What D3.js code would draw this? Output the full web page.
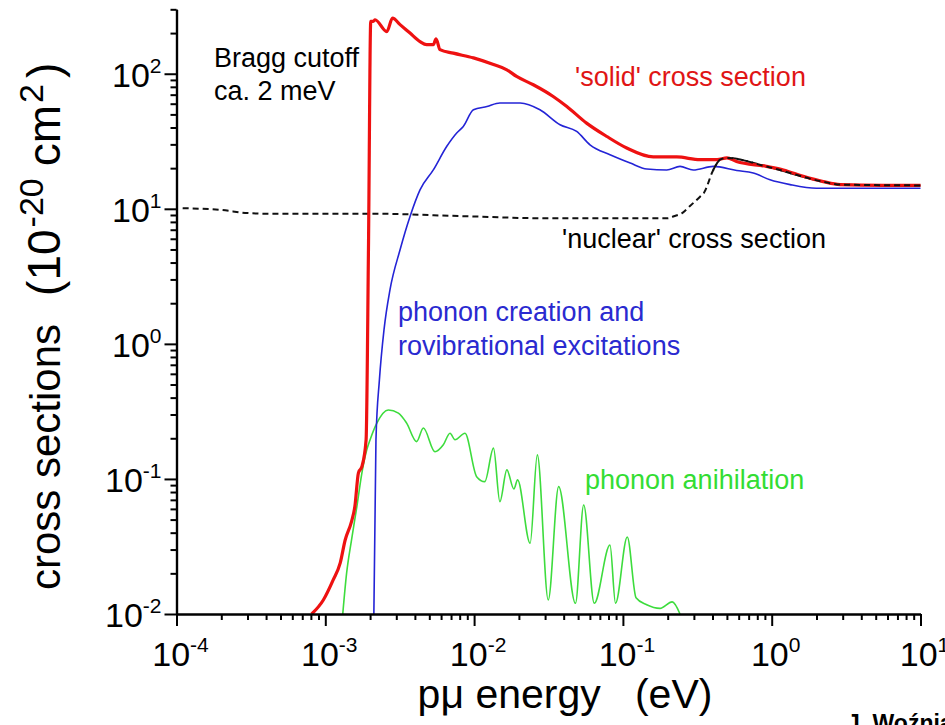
<!DOCTYPE html>
<html><head><meta charset="utf-8">
<script src="https://cdn.jsdelivr.net/npm/d3@7"></script>
<style>
body{margin:0;background:#fff}
svg{display:block}
text{font-family:"Liberation Sans",Arial,sans-serif}
</style>
</head><body>
<svg id="c" width="945" height="725"></svg>
<script>
// ---- data (energy in eV, cross sections in 1e-20 cm^2) ----
const xTickExps = [-4, -3, -2, -1, 0, 1];
const yTickExps = [-2, -1, 0, 1, 2];

const solidE = [8.1e-4, 9.7e-4, 1.13e-3, 1.26e-3, 1.36e-3, 1.5e-3, 1.58e-3, 1.67e-3, 1.76e-3, 1.88e-3, 1.95e-3, 2.02e-3, 2.1e-3, 2.16e-3, 2.59e-3, 2.83e-3, 3.18e-3, 3.71e-3, 4.33e-3, 4.8e-3, 5.32e-3, 5.55e-3, 5.9e-3, 7.25e-3, 9.9e-3, 0.0135, 0.0166, 0.0193, 0.025, 0.034, 0.042, 0.057, 0.078, 0.106, 0.16, 0.23, 0.33, 0.43, 0.5, 0.58, 0.92, 1.2, 1.63, 2.22, 2.88, 5.6, 10];
const solidV = [0.01, 0.0127, 0.0179, 0.0239, 0.0353, 0.0483, 0.0624, 0.111, 0.123, 0.195, 4.97, 244, 244, 251, 205, 258, 231, 200, 173, 164, 164, 181, 151, 142, 131, 117, 107, 95.5, 82.9, 67.9, 57.2, 43.1, 34.3, 28.2, 24.2, 24.2, 23.1, 23.1, 23.8, 22.4, 20.6, 19.4, 17.4, 15.9, 15.1, 14.9, 14.9];

const nuclearE = [1.1e-4, 2e-4, 3e-4, 4.2e-4, 2e-3, 9e-3, 0.032, 0.2, 0.22, 0.25, 0.28, 0.33, 0.35, 0.405, 0.45, 0.5, 0.92, 2.2, 2.9, 10];
const nuclearV = [10.1, 9.8, 9.3, 9.2, 9.2, 8.8, 8.5, 8.5, 8.8, 9.3, 10.4, 12.3, 13.1, 19.4, 23.1, 23.8, 20.6, 15.9, 15.1, 14.9];

const phononE = [2.12e-3, 2.19e-3, 2.31e-3, 2.48e-3, 2.72e-3, 3.18e-3, 3.71e-3, 4.33e-3, 5.32e-3, 6.54e-3, 7.64e-3, 8.46e-3, 9.9e-3, 0.0122, 0.0149, 0.0204, 0.0277, 0.0378, 0.0489, 0.0601, 0.0819, 0.112, 0.145, 0.197, 0.242, 0.297, 0.405, 0.582, 0.752, 0.974, 1.33, 2.0, 10];
const phononV = [0.01, 0.195, 0.541, 1.27, 2.51, 4.97, 8.77, 13.8, 19.4, 28.9, 36.4, 40.7, 54.1, 57.2, 60.7, 60.7, 54.1, 41.9, 37.4, 29.8, 25.1, 21.8, 19.7, 19.4, 20.6, 19.4, 20.6, 19.2, 18.4, 16.4, 15.1, 14.2, 14.2];

const anihE = [1.31e-3, 1.39e-3, 1.5e-3, 1.63e-3, 1.76e-3, 1.9e-3, 2.0e-3, 2.22e-3, 2.65e-3, 3.1e-3, 3.52e-3, 4.11e-3, 4.56e-3, 5.46e-3, 6.21e-3, 6.89e-3, 7.44e-3, 8.68e-3, 0.0104, 0.0118, 0.0135, 0.0149, 0.0166, 0.0185, 0.0196, 0.0238, 0.0266, 0.0315, 0.037, 0.048, 0.0545, 0.0642, 0.0819, 0.0892, 0.107, 0.1225, 0.1445, 0.1775, 0.2145, 0.242];
const anihV = [0.01, 0.02, 0.0353, 0.0624, 0.11, 0.164, 0.195, 0.259, 0.324, 0.307, 0.259, 0.189, 0.238, 0.159, 0.179, 0.218, 0.195, 0.218, 0.104, 0.0955, 0.169, 0.0679, 0.1167, 0.0843, 0.0984, 0.0334, 0.1506, 0.0127, 0.0877, 0.012, 0.0642, 0.012, 0.0324, 0.012, 0.0372, 0.0132, 0.0117, 0.011, 0.0123, 0.01];

// ---- layout ----
const svg = d3.select("#c");
const L = 176.5, R = 920.5, T = 9.3, B = 614;
const x = d3.scaleLog().domain([1e-4, 10]).range([L, R]);
const y = d3.scaleLog().domain([0.01, 300]).range([B, T]);

svg.append("defs").append("clipPath").attr("id", "clip").append("rect")
  .attr("x", L).attr("y", T - 5).attr("width", R - L + 2).attr("height", B - T + 5);

const zip = (a, b) => a.map((v, i) => [v, b[i]]);
const line = d3.line().x(d => x(d[0])).y(d => y(d[1])).curve(d3.curveMonotoneX);

const plot = svg.append("g").attr("clip-path", "url(#clip)");
plot.append("path").datum(zip(nuclearE, nuclearV)).attr("d", line)
  .attr("fill", "none").attr("stroke", "#111").attr("stroke-width", 2).attr("stroke-dasharray", "6,4");
plot.append("path").datum(zip(anihE, anihV)).attr("d", line)
  .attr("fill", "none").attr("stroke", "#3ddc3d").attr("stroke-width", 1.6);
plot.append("path").datum(zip(phononE, phononV)).attr("d", line)
  .attr("fill", "none").attr("stroke", "#2424d6").attr("stroke-width", 1.6);
plot.append("path").datum(zip(solidE, solidV)).attr("d", line)
  .attr("fill", "none").attr("stroke", "#ee1111").attr("stroke-width", 3.2);
plot.append("path").datum(zip(nuclearE, nuclearV).filter(d => d[0] >= 0.4)).attr("d", line)
  .attr("fill", "none").attr("stroke", "#111").attr("stroke-width", 2).attr("stroke-dasharray", "6,4");

// ---- axes ----
const minorX = [];
d3.range(-4, 1).forEach(e => { for (let k = 2; k <= 9; k++) minorX.push(k * Math.pow(10, e)); });
const minorY = [];
d3.range(-2, 3).forEach(e => { for (let k = 2; k <= 9; k++) { const v = k * Math.pow(10, e); if (v <= 300) minorY.push(v); } });
const xMaj = xTickExps.map(e => Math.pow(10, e));
const yMaj = yTickExps.map(e => Math.pow(10, e));

const axX1 = svg.append("g").attr("transform", `translate(0,${B})`)
  .call(d3.axisBottom(x).tickValues(minorX).tickSizeInner(6).tickSizeOuter(0).tickFormat(() => ""));
const axX2 = svg.append("g").attr("transform", `translate(0,${B})`)
  .call(d3.axisBottom(x).tickValues(xMaj).tickSizeInner(12).tickSizeOuter(0).tickFormat(() => ""));
const axY1 = svg.append("g").attr("transform", `translate(${L},0)`)
  .call(d3.axisLeft(y).tickValues(minorY).tickSizeInner(6).tickSizeOuter(0).tickFormat(() => ""));
const axY2 = svg.append("g").attr("transform", `translate(${L},0)`)
  .call(d3.axisLeft(y).tickValues(yMaj).tickSizeInner(12).tickSizeOuter(0).tickFormat(() => ""));
[axX1, axX2, axY1, axY2].forEach(g => {
  g.selectAll("path.domain").attr("stroke", "#000").attr("stroke-width", 2.2);
  g.selectAll("g.tick line").attr("stroke", "#000").attr("stroke-width", 2);
});

// tick labels
const xl = svg.append("g").selectAll("text").data(xTickExps).join("text")
  .attr("x", d => x(Math.pow(10, d)) + 4).attr("y", B + 52)
  .attr("text-anchor", "middle").attr("font-size", 34).attr("fill", "#000");
xl.append("tspan").text("10");
xl.append("tspan").attr("font-size", 21).attr("dy", -14).text(d => d);

const yl = svg.append("g").selectAll("text").data(yTickExps).join("text")
  .attr("x", L - 15).attr("y", d => y(Math.pow(10, d)) + 13)
  .attr("text-anchor", "end").attr("font-size", 34).attr("fill", "#000");
yl.append("tspan").text("10");
yl.append("tspan").attr("font-size", 21).attr("dy", -14).text(d => d);

// ---- axis titles ----
svg.append("text").attr("x", 565).attr("y", 708).attr("text-anchor", "middle")
  .attr("font-size", 41).attr("fill", "#000").attr("xml:space", "preserve")
  .text("p\u03bc energy   (eV)");

const yt = svg.append("text").attr("transform", "translate(60,590) rotate(-90)")
  .attr("text-anchor", "start").attr("font-size", 42).attr("fill", "#000");
yt.append("tspan").text("cross sections");
yt.append("tspan").attr("dx", 28).attr("font-size", 46).text("(10");
yt.append("tspan").attr("font-size", 34).attr("dy", -17).attr("dx", 2).text("-20");
yt.append("tspan").attr("font-size", 46).attr("dy", 17).attr("dx", 12).text("cm");
yt.append("tspan").attr("font-size", 34).attr("dy", -17).attr("dx", 2).text("2");
yt.append("tspan").attr("font-size", 46).attr("dy", 17).attr("dx", 6).text(")");

// ---- annotations ----
const ann = svg.append("g").attr("font-size", 27);
ann.append("text").attr("x", 214).attr("y", 67).attr("fill", "#000").text("Bragg cutoff");
ann.append("text").attr("x", 214).attr("y", 100).attr("fill", "#000").text("ca. 2 meV");
ann.append("text").attr("x", 575).attr("y", 86).attr("fill", "#e01515").text("'solid' cross section");
ann.append("text").attr("x", 562).attr("y", 248).attr("fill", "#000").text("'nuclear' cross section");
ann.append("text").attr("x", 398).attr("y", 321).attr("fill", "#2a2ad0").text("phonon creation and");
ann.append("text").attr("x", 398).attr("y", 355).attr("fill", "#2a2ad0").text("rovibrational excitations");
ann.append("text").attr("x", 585).attr("y", 489).attr("fill", "#33dd33").text("phonon anihilation");

svg.append("text").attr("x", 847).attr("y", 731).attr("font-size", 23).attr("font-weight", "bold")
  .attr("fill", "#000").text("J. Woźniak");
</script>
</body></html>
